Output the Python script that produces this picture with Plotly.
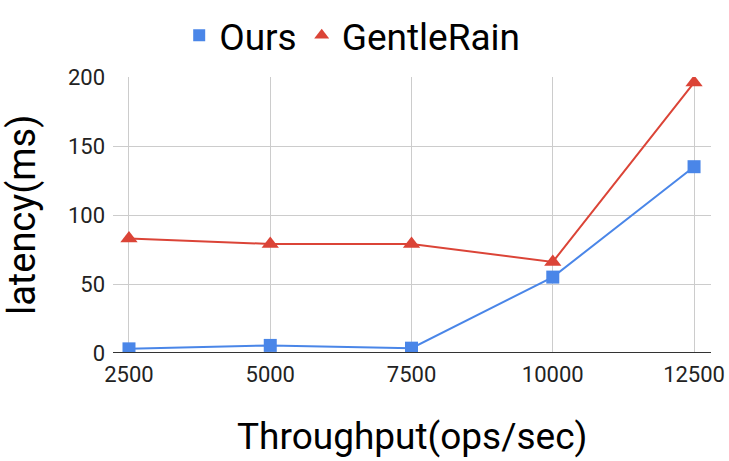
import plotly.graph_objects as go

throughput = [2500, 5000, 7500, 10000, 12500]
ours = [3, 5.5, 3.5, 55, 135]
gentlerain = [83, 79, 79, 66, 196]
y_ticks = [0, 50, 100, 150, 200]

BLUE = "#4a86e8"
RED = "#db4437"

fig = go.Figure()
fig.add_trace(go.Scatter(x=throughput, y=ours, name="Ours", mode="lines+markers",
                         line=dict(color=BLUE, width=2), showlegend=False,
                         marker=dict(symbol="square", size=13, color=BLUE)))
fig.add_trace(go.Scatter(x=throughput, y=gentlerain, name="GentleRain", mode="lines+markers",
                         line=dict(color=RED, width=2), showlegend=False,
                         marker=dict(symbol="triangle-up", size=15, color=RED)))
# legend entries (marker only, as in the reference)
fig.add_trace(go.Scatter(x=[None], y=[None], name="Ours", mode="markers",
                         marker=dict(symbol="square", size=12, color=BLUE)))
fig.add_trace(go.Scatter(x=[None], y=[None], name="GentleRain", mode="markers",
                         marker=dict(symbol="triangle-up", size=13, color=RED)))

fig.update_layout(
    width=729, height=461,
    margin=dict(l=113, r=18, t=77, b=108, autoexpand=False),
    paper_bgcolor="white", plot_bgcolor="white",
    font=dict(family="Roboto", color="#222222"),
    legend=dict(orientation="h", x=0.40, xanchor="center", y=1.15, yanchor="middle",
                font=dict(size=37, color="#000000"), itemwidth=30),
    xaxis=dict(range=[2217, 12800], tickvals=throughput, ticktext=[str(v) for v in throughput],
               showgrid=True, gridcolor="#cccccc", gridwidth=1, zeroline=False, automargin=False,
               tickfont=dict(size=22, color="#222222"), ticklabelstandoff=6,
               ticklabeloverflow="allow"),
    yaxis=dict(range=[0, 200], tickvals=y_ticks, showgrid=True, gridcolor="#cccccc",
               zeroline=False, showline=False, automargin=False,
               tickfont=dict(size=22, color="#222222"), ticklabelstandoff=7),
    shapes=[dict(type="line", xref="paper", yref="y", x0=0, x1=1, y0=0, y1=0,
                 line=dict(color="#333333", width=2))],
    annotations=[
        dict(text="Throughput(ops/sec)", xref="paper", yref="paper", x=0.5, y=-0.304,
             xanchor="center", yanchor="middle", showarrow=False,
             font=dict(size=37, color="#000000")),
        dict(text="latency(ms)", xref="paper", yref="paper", x=-0.152, y=0.5,
             xanchor="center", yanchor="middle", showarrow=False, textangle=-90,
             font=dict(size=38, color="#000000")),
    ],
)

fig.write_html("out.html", config={"displayModeBar": False},
               post_script="document.body.style.margin='0';document.body.style.overflow='hidden';")
